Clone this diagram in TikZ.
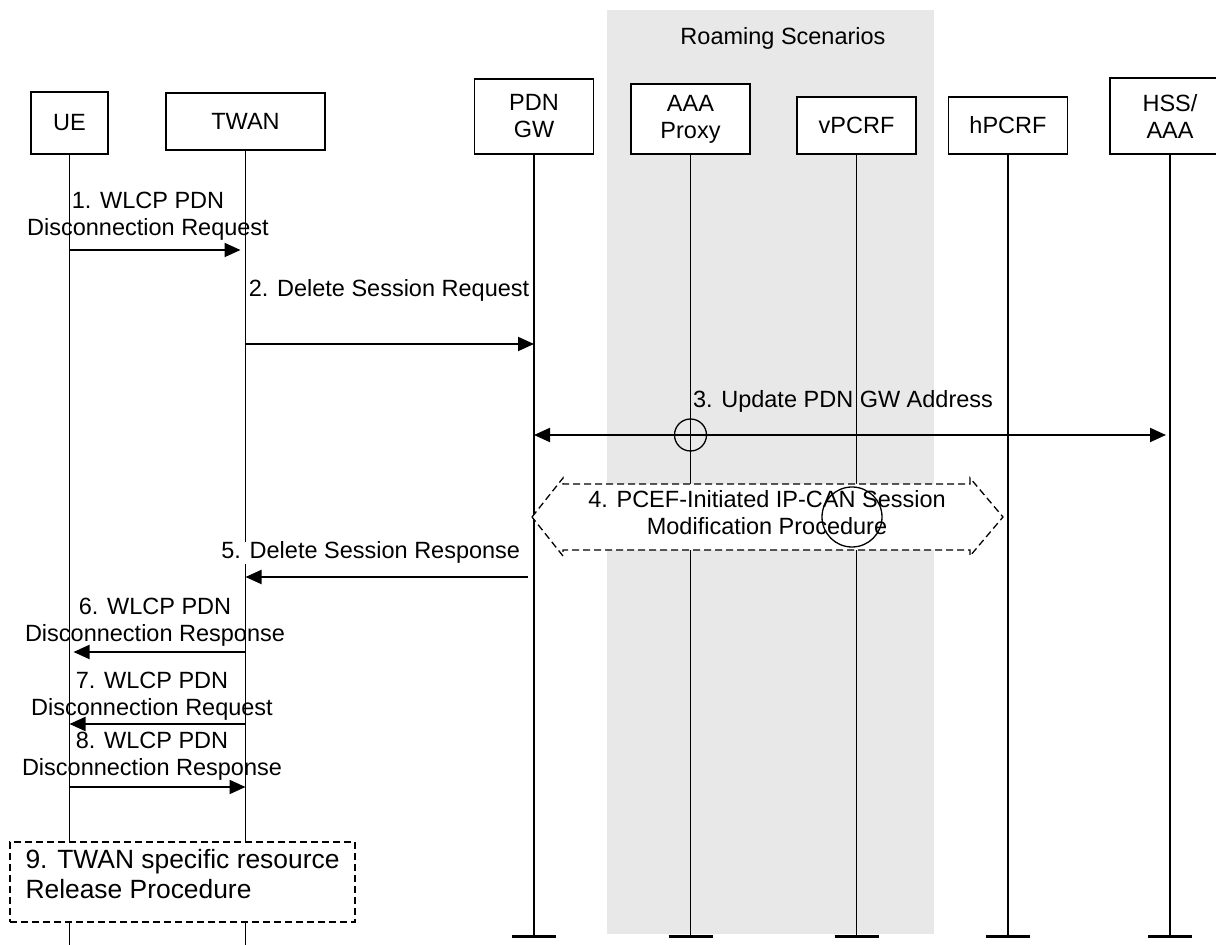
\documentclass[tikz,border=0pt]{standalone}
\usepackage{fontspec}
\setmainfont{Liberation Sans}
\usetikzlibrary{arrows.meta}

\tikzset{
  entity/.style={draw, line width=.75pt, fill=white, inner sep=0pt, align=center, font=\fontsize{11.75}{13.5}\selectfont},
  life/.style={line width=.65pt},
  endbar/.style={line width=1.5pt},
  msg/.style={-{Triangle[length=8pt,width=7pt]}, line width=1pt},
  dmsg/.style={{Triangle[length=8pt,width=7pt]}-{Triangle[length=8pt,width=7pt]}, line width=1pt},
  lbl/.style={anchor=base, align=center, inner sep=0pt, font=\fontsize{11.75}{13.5}\selectfont},
  ring/.style={circle, draw, line width=.65pt, inner sep=0pt},
  procline/.style={line width=.65pt, dash pattern=on 3.5pt off 2pt},
}

\begin{document}
\begin{tikzpicture}[x=.5pt, y=-.5pt]
\useasboundingbox (0,0) rectangle (1216,945);
% roaming part
\fill[black!9] (607,10) rectangle (934,934);
\node[lbl] (roam) at (783,45) {Roaming Scenarios};

% entities
\node[entity, minimum width=38.5pt, minimum height=31pt] (ue) at (69.5,123) {UE};
\node[entity, minimum width=79.5pt, minimum height=28.5pt] (twan) at (245.5,121.5) {TWAN};
\node[entity, minimum width=59.5pt, minimum height=37.5pt] (pdn) at (534,116.5) {PDN\\GW};
\node[entity, minimum width=59.5pt, minimum height=35pt] (aaa) at (690.5,119) {AAA\\Proxy};
\node[entity, minimum width=59.5pt, minimum height=28.5pt] (vpcrf) at (856.5,125.5) {vPCRF};
\node[entity, minimum width=59.5pt, minimum height=28.5pt] (hpcrf) at (1008,125.5) {hPCRF};
\node[entity, minimum width=60pt, minimum height=38pt] (hss) at (1170,116) {HSS/\\AAA};

% lifelines
\coordinate (bot) at (0,945);
\coordinate (end) at (0,937);
\foreach \e in {ue,twan}
  \draw[life] (\e.south) -- (\e.south |- bot);
\foreach \e in {pdn,aaa,vpcrf,hpcrf,hss}
{
  \draw[life] (\e.south) -- (\e.south |- end);
  \draw[endbar] ([xshift=-11pt]\e.south |- end) -- ([xshift=11pt]\e.south |- end);
}

% messages
\coordinate (m1) at (0,250);
\draw[msg, shorten >=2.5pt] (ue |- m1) -- (twan |- m1);
\node[lbl] (l1) at (148,236) {1. WLCP PDN\\Disconnection Request};

\coordinate (m2) at (0,344);
\draw[msg] (twan |- m2) -- (pdn |- m2);
\node[lbl] (l2) at (389,297) {2. Delete Session Request};

\coordinate (m3) at (0,435);
\draw[dmsg, shorten >=2pt] (pdn |- m3) -- (hss |- m3);
\node[lbl] (l3) at (843,408) {3. Update PDN GW Address};
\node[ring, minimum size=16pt] (r1) at (aaa |- m3) {};

% step 4
\draw[procline, fill=white] (532,517) -- (563,478) -- (563,484) -- (970,484) -- (970,478)
  -- (1003,517) -- (970,556) -- (970,550) -- (563,550) -- (563,556) -- cycle;
\node[lbl] (l4) at (767,535) {4. PCEF-Initiated IP-CAN Session\\Modification Procedure};
\node[ring, minimum size=30pt] (r2) at (852,517) {};

\coordinate (m5) at (0,577);
\draw[msg, shorten <=3pt] (pdn |- m5) -- (twan |- m5);
\node[lbl, anchor=base west, fill=white] (l5) at (221,559) {5. Delete Session Response};

\coordinate (m6) at (0,652);
\draw[msg, shorten >=2pt] (twan |- m6) -- (ue |- m6);
\node[lbl] (l6) at (155,642) {6. WLCP PDN\\Disconnection Response};

\coordinate (m7) at (0,724);
\draw[msg] (twan |- m7) -- (ue |- m7);
\node[lbl] (l7) at (152,716) {7. WLCP PDN\\Disconnection Request};

\coordinate (m8) at (0,787);
\draw[msg] (ue |- m8) -- (twan |- m8);
\node[lbl] (l8) at (152,776) {8. WLCP PDN\\Disconnection Response};

% step 9
\node[draw, procline, fill=white, minimum width=172.5pt, minimum height=40pt, text depth=8.5pt,
  inner sep=0pt, align=left, font=\fontsize{13.2}{15}\selectfont] (rel) at (182.5,882)
  {9. TWAN specific resource\\Release Procedure};
\end{tikzpicture}
\end{document}
